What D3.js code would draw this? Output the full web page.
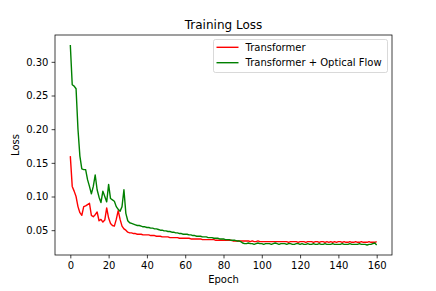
<!DOCTYPE html>
<html>
<head>
<meta charset="utf-8">
<script src="https://cdn.jsdelivr.net/npm/d3@7"></script>
<style>
  body { margin: 0; background: #fff; }
  svg { font-family: "DejaVu Sans", sans-serif; }
</style>
</head>
<body>
<svg width="436" height="291"></svg>
<script>
// epochs 0..160
const epochs = d3.range(0, 161);

const transformerLoss = [
  0.160, 0.115, 0.108, 0.100, 0.085, 0.076, 0.072, 0.085, 0.086, 0.088,
  0.090, 0.072, 0.070, 0.073, 0.077, 0.064, 0.066, 0.062, 0.065, 0.083,
  0.068, 0.060, 0.057, 0.056, 0.066, 0.079, 0.066, 0.056, 0.052, 0.050,
  0.047, 0.046, 0.046, 0.045, 0.045, 0.044, 0.044, 0.044, 0.043, 0.043,
  0.043, 0.043, 0.042, 0.042, 0.042, 0.041, 0.041, 0.041, 0.040, 0.040,
  0.040, 0.040, 0.039, 0.039, 0.039, 0.039, 0.039, 0.038, 0.038, 0.038,
  0.038, 0.038, 0.038, 0.037, 0.037, 0.037, 0.037, 0.037, 0.037, 0.036,
  0.036, 0.036, 0.036, 0.036, 0.036, 0.036, 0.035, 0.035, 0.035, 0.035,
  0.035, 0.035, 0.035, 0.035, 0.035, 0.034, 0.034, 0.034, 0.034, 0.034,
  0.034, 0.034, 0.034, 0.034, 0.033, 0.034, 0.033, 0.033, 0.034, 0.033,
  0.033, 0.033, 0.033, 0.033, 0.033, 0.033, 0.033, 0.033, 0.033, 0.033,
  0.033, 0.033, 0.033, 0.033, 0.032, 0.033, 0.033, 0.033, 0.033, 0.032,
  0.033, 0.033, 0.033, 0.032, 0.033, 0.033, 0.033, 0.032, 0.033, 0.033,
  0.032, 0.033, 0.033, 0.032, 0.033, 0.032, 0.033, 0.032, 0.033, 0.032,
  0.033, 0.033, 0.032, 0.033, 0.032, 0.032, 0.033, 0.032, 0.032, 0.033,
  0.032, 0.032, 0.033, 0.032, 0.032, 0.032, 0.033, 0.032, 0.032, 0.032,
  0.033
];

const flowLoss = [
  0.325, 0.266, 0.264, 0.260, 0.200, 0.160, 0.141, 0.140, 0.140, 0.125,
  0.115, 0.104, 0.115, 0.132, 0.110, 0.099, 0.091, 0.108, 0.100, 0.092,
  0.118, 0.097, 0.095, 0.093, 0.085, 0.081, 0.078, 0.085, 0.110, 0.075,
  0.064, 0.061, 0.060, 0.059, 0.058, 0.057, 0.057, 0.056, 0.055, 0.055,
  0.054, 0.054, 0.053, 0.053, 0.052, 0.052, 0.051, 0.050, 0.050, 0.049,
  0.049, 0.048, 0.048, 0.047, 0.047, 0.046, 0.046, 0.045, 0.045, 0.044,
  0.044, 0.044, 0.043, 0.043, 0.042, 0.042, 0.041, 0.041, 0.041, 0.040,
  0.040, 0.040, 0.039, 0.039, 0.039, 0.038, 0.038, 0.038, 0.037, 0.037,
  0.037, 0.036, 0.036, 0.036, 0.035, 0.035, 0.035, 0.034, 0.034, 0.033,
  0.031, 0.030, 0.030, 0.031, 0.030, 0.030, 0.029, 0.030, 0.031, 0.030,
  0.030, 0.029, 0.030, 0.030, 0.030, 0.029, 0.030, 0.031, 0.030, 0.029,
  0.030, 0.030, 0.030, 0.029, 0.030, 0.030, 0.029, 0.029, 0.030, 0.030,
  0.029, 0.030, 0.029, 0.029, 0.030, 0.029, 0.029, 0.030, 0.029, 0.029,
  0.030, 0.029, 0.029, 0.030, 0.029, 0.029, 0.029, 0.030, 0.029, 0.029,
  0.029, 0.029, 0.030, 0.029, 0.029, 0.029, 0.030, 0.029, 0.029, 0.029,
  0.029, 0.030, 0.029, 0.029, 0.029, 0.028, 0.029, 0.029, 0.030, 0.031,
  0.028
];

const seriesNames = ["Transformer", "Transformer + Optical Flow"];
const seriesColors = ["#ff0000", "#008000"];
const xTicks = [0, 20, 40, 60, 80, 100, 120, 140, 160];
const yTicks = [0.05, 0.10, 0.15, 0.20, 0.25, 0.30];

const margin = { left: 55, right: 392, top: 35, bottom: 255 };

const svg = d3.select("svg");

// matplotlib style 5% padding on both axes
const xExt = d3.extent(epochs);
const xPad = (xExt[1] - xExt[0]) * 0.05;
const x = d3.scaleLinear()
  .domain([xExt[0] - xPad, xExt[1] + xPad])
  .range([margin.left, margin.right]);

const allVals = transformerLoss.concat(flowLoss);
const yExt = d3.extent(allVals);
const yPad = (yExt[1] - yExt[0]) * 0.05;
const y = d3.scaleLinear()
  .domain([yExt[0] - yPad, yExt[1] + yPad])
  .range([margin.bottom, margin.top]);

const line = d3.line()
  .x((d, i) => x(epochs[i]))
  .y(d => y(d));

const plot = svg.append("g");

[transformerLoss, flowLoss].forEach((vals, k) => {
  plot.append("path")
    .datum(vals)
    .attr("fill", "none")
    .attr("stroke", seriesColors[k])
    .attr("stroke-width", 1.4)
    .attr("stroke-linejoin", "round")
    .attr("d", line);
});

// axes
const xAxis = svg.append("g")
  .attr("transform", `translate(0,${margin.bottom})`)
  .call(d3.axisBottom(x).tickValues(xTicks).tickSize(3.4).tickPadding(3.2).tickFormat(d3.format("d")));

const yAxis = svg.append("g")
  .attr("transform", `translate(${margin.left},0)`)
  .call(d3.axisLeft(y).tickValues(yTicks).tickSize(3.4).tickPadding(3.2).tickFormat(d3.format(".2f")));

[xAxis, yAxis].forEach(a => {
  a.select(".domain").remove();
  a.selectAll("line").attr("stroke", "#000").attr("stroke-width", 0.75);
  a.selectAll("text")
    .attr("fill", "#000")
    .style("font-family", "DejaVu Sans")
    .style("font-size", "10px");
});

// frame
svg.append("rect")
  .attr("x", margin.left)
  .attr("y", margin.top)
  .attr("width", margin.right - margin.left)
  .attr("height", margin.bottom - margin.top)
  .attr("fill", "none")
  .attr("stroke", "#000")
  .attr("stroke-width", 0.75);

// title and labels
svg.append("text")
  .attr("x", (margin.left + margin.right) / 2)
  .attr("y", 28.5)
  .attr("text-anchor", "middle")
  .style("font-size", "12px")
  .text("Training Loss");

svg.append("text")
  .attr("x", (margin.left + margin.right) / 2)
  .attr("y", 282.5)
  .attr("text-anchor", "middle")
  .style("font-size", "10px")
  .text("Epoch");

svg.append("text")
  .attr("transform", `translate(18.5,${(margin.top + margin.bottom) / 2}) rotate(-90)`)
  .attr("text-anchor", "middle")
  .style("font-size", "10px")
  .text("Loss");

// legend
const legend = svg.append("g");
legend.append("rect")
  .attr("x", 213.5)
  .attr("y", 39.5)
  .attr("width", 174)
  .attr("height", 33)
  .attr("rx", 2)
  .attr("fill", "#fff")
  .attr("fill-opacity", 0.8)
  .attr("stroke", "#cccccc")
  .attr("stroke-width", 0.75);

seriesNames.forEach((name, i) => {
  const cy = 47.3 + i * 15.4;
  legend.append("line")
    .attr("x1", 216.5).attr("x2", 238.5)
    .attr("y1", cy).attr("y2", cy)
    .attr("stroke", seriesColors[i])
    .attr("stroke-width", 1.4);
  legend.append("text")
    .attr("x", 245.5)
    .attr("y", cy + 3.6)
    .style("font-size", "10px")
    .text(name);
});
</script>
</body>
</html>
